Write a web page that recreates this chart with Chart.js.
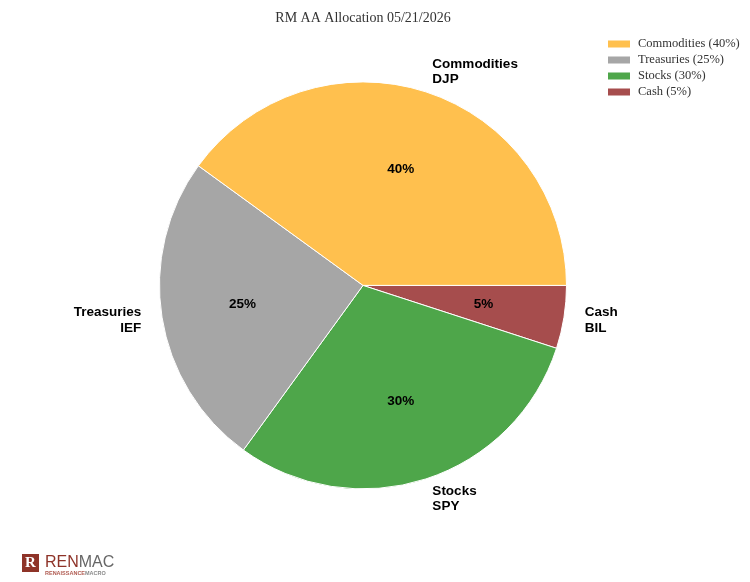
<!DOCTYPE html>
<html>
<head>
<meta charset="utf-8">
<script src="https://cdn.jsdelivr.net/npm/chart.js@4"></script>
<style>
  html, body { margin: 0; padding: 0; background: #fff; }
  #wrap { position: relative; width: 750px; height: 582px; }
</style>
</head>
<body>
<div id="wrap"><canvas id="allocChart" width="750" height="582"></canvas></div>
<script>
// data, listed in legend order
const assets = ['Commodities', 'Treasuries', 'Stocks', 'Cash'];
const tickers = ['DJP', 'IEF', 'SPY', 'BIL'];
const weights = [40, 25, 30, 5];
const colors = ['#ffc04e', '#a6a6a6', '#4ea64a', '#a64d4d'];

// pie is drawn counter-clockwise from 3 o'clock, so feed it in reverse
const order = [3, 2, 1, 0];

const sliceLabels = {
    id: 'sliceLabels',
    afterDatasetsDraw(chart) {
        const ctx = chart.ctx;
        const meta = chart.getDatasetMeta(0);
        ctx.save();
        ctx.fillStyle = '#000';
        ctx.font = 'bold 13.5px "Liberation Sans", Arial, sans-serif';
        meta.data.forEach((arc, i) => {
            const idx = order[i];
            const p = arc.getProps(['x', 'y', 'startAngle', 'endAngle', 'outerRadius']);
            const mid = (p.startAngle + p.endAngle) / 2;
            const cos = Math.cos(mid), sin = Math.sin(mid);

            // percentage inside
            const ri = p.outerRadius * 0.6;
            ctx.textAlign = 'center';
            ctx.textBaseline = 'middle';
            ctx.fillText(weights[idx] + '%', p.x + cos * ri, p.y + sin * ri);

            // name + ticker outside
            const ro = p.outerRadius + 21;
            const lx = p.x + cos * ro;
            const ly = p.y + sin * ro;
            ctx.textAlign = cos >= 0 ? 'left' : 'right';
            ctx.fillText(assets[idx], lx, ly - 8);
            ctx.fillText(tickers[idx], lx, ly + 7.5);
        });
        ctx.restore();
    }
};

const sideLegend = {
    id: 'sideLegend',
    afterDraw(chart) {
        const ctx = chart.ctx;
        ctx.save();
        ctx.font = '12.5px Georgia, "Liberation Serif", serif';
        ctx.textBaseline = 'middle';
        ctx.textAlign = 'left';
        assets.forEach((name, i) => {
            const y = 44 + i * 16;
            ctx.fillStyle = colors[i];
            ctx.fillRect(608, y - 3.5, 22, 7);
            ctx.fillStyle = '#333';
            ctx.fillText(name + ' (' + weights[i] + '%)', 638, y);
        });

        // RenMac logo, bottom left
        ctx.fillStyle = '#8e3328';
        ctx.fillRect(22, 554, 17, 18);
        ctx.fillStyle = '#fff';
        ctx.font = 'bold 15px "Liberation Serif", serif';
        ctx.textAlign = 'center';
        ctx.fillText('R', 30.5, 563);
        ctx.textAlign = 'left';
        ctx.font = '16px "Liberation Sans", Arial, sans-serif';
        ctx.textBaseline = 'alphabetic';
        ctx.fillStyle = '#8e3328';
        ctx.fillText('REN', 45, 567);
        const w = ctx.measureText('REN').width;
        ctx.fillStyle = '#666';
        ctx.fillText('MAC', 45 + w, 567);
        ctx.font = 'bold 5.5px "Liberation Sans", Arial, sans-serif';
        ctx.fillStyle = '#b05a50';
        ctx.fillText('RENAISSANCE', 45, 575);
        const w2 = ctx.measureText('RENAISSANCE').width;
        ctx.fillStyle = '#888';
        ctx.fillText('MACRO', 45 + w2, 575);
        ctx.restore();
    }
};

const ctx = document.getElementById('allocChart').getContext('2d');

new Chart(ctx, {
    type: 'pie',
    data: {
        labels: order.map(i => assets[i]),
        datasets: [{
            data: order.map(i => weights[i]),
            backgroundColor: order.map(i => colors[i]),
            borderColor: '#fff',
            borderWidth: 1
        }]
    },
    options: {
        responsive: false,
        animation: false,
        rotation: 90,
        layout: {
            padding: { left: 159, right: 183, top: 0, bottom: 48 }
        },
        plugins: {
            legend: { display: false },
            tooltip: { enabled: false },
            title: {
                display: true,
                text: 'RM AA Allocation 05/21/2026',
                color: '#333',
                font: { family: 'Georgia, "Liberation Serif", serif', size: 14, weight: 'normal' },
                padding: { top: 10, bottom: 10 }
            }
        }
    },
    plugins: [sliceLabels, sideLegend]
});
</script>
</body>
</html>
